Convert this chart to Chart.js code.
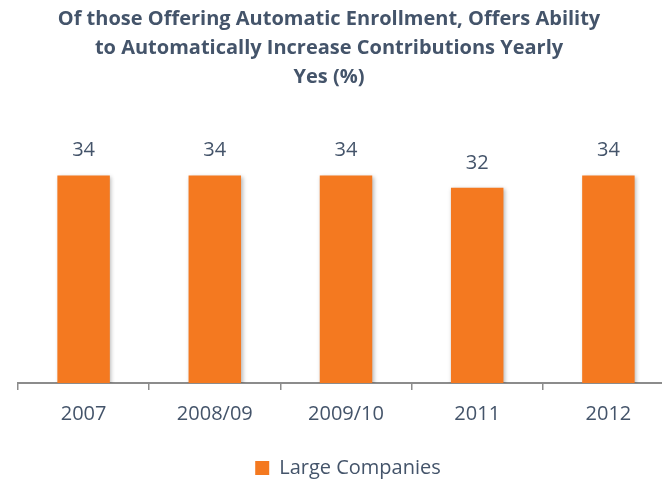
<!DOCTYPE html>
<html>
<head>
<meta charset="utf-8">
<script src="https://cdn.jsdelivr.net/npm/chart.js@4/dist/chart.umd.min.js"></script>
<style>
html,body{margin:0;padding:0;background:#fff;overflow:hidden;}
#wrap{width:662px;height:479px;position:relative;overflow:hidden;}
</style>
</head>
<body>
<div id="wrap"><canvas id="c" width="674" height="479"></canvas></div>
<script>
const categories = ["2007", "2008/09", "2009/10", "2011", "2012"];
const seriesName = "Large Companies";
const largeCompanies = [34, 34, 34, 32, 34];
const titleLines = [
  "Of those Offering Automatic Enrollment, Offers Ability",
  "to Automatically Increase Contributions Yearly",
  "Yes (%)"
];

const TEXT = "#44546A";
const ORANGE = "#F47920";
const FONT = "'Open Sans', 'Noto Sans', sans-serif";

const shadowPlugin = {
  id: "barShadow",
  beforeDatasetsDraw(chart) {
    const ctx = chart.ctx;
    ctx.save();
    ctx.shadowColor = "rgba(0,0,0,0.28)";
    ctx.shadowBlur = 4;
    ctx.shadowOffsetX = 1.5;
    ctx.shadowOffsetY = 1.5;
  },
  afterDatasetsDraw(chart) {
    chart.ctx.restore();
  }
};

const labelPlugin = {
  id: "valueLabels",
  afterDatasetsDraw(chart) {
    const ctx = chart.ctx;
    const meta = chart.getDatasetMeta(0);
    ctx.save();
    ctx.fillStyle = TEXT;
    ctx.font = "20px " + FONT;
    ctx.textAlign = "center";
    ctx.textBaseline = "middle";
    meta.data.forEach((bar, i) => {
      ctx.fillText(String(chart.data.datasets[0].data[i]), bar.x, bar.y - 25);
    });
    ctx.restore();
  }
};

const titleShift = {
  id: "titleShift",
  afterLayout(chart) {
    if (chart.titleBlock) {
      chart.titleBlock.left -= 8;
      chart.titleBlock.right -= 8;
    }
    if (chart.legend) {
      chart.legend.left += 11;
      chart.legend.right += 11;
      chart.legend.top += 9;
      chart.legend.bottom += 9;
    }
  }
};

new Chart(document.getElementById("c"), {
  type: "bar",
  data: {
    labels: categories,
    datasets: [{
      label: seriesName,
      data: largeCompanies,
      backgroundColor: ORANGE,
      borderWidth: 0,
      categoryPercentage: 1.0,
      barPercentage: 0.4
    }]
  },
  plugins: [shadowPlugin, labelPlugin, titleShift],
  options: {
    responsive: false,
    animation: false,
    devicePixelRatio: 1,
    layout: { padding: { left: 0, right: 0, top: 5, bottom: 0 } },
    plugins: {
      title: {
        display: true,
        text: titleLines,
        color: TEXT,
        font: { family: FONT, size: 20, weight: "bold", lineHeight: 1.45 },
        padding: { top: 0, bottom: 47 }
      },
      legend: {
        display: true,
        position: "bottom",
        labels: {
          color: TEXT,
          font: { family: FONT, size: 20 },
          boxWidth: 14,
          boxHeight: 14,
          padding: 2
        }
      },
      tooltip: { enabled: false }
    },
    scales: {
      x: {
        offset: true,
        grid: {
          display: true,
          drawOnChartArea: false,
          drawTicks: true,
          tickLength: 7,
          color: "#8C8C8C",
          lineWidth: 1.5,
          offset: true
        },
        border: { display: true, color: "#8C8C8C", width: 2 },
        ticks: {
          color: TEXT,
          font: { family: FONT, size: 20 },
          padding: 12
        },
        afterFit(scale) { scale.height += 9; }
      },
      y: {
        min: 0,
        max: 40,
        display: true,
        grid: { display: false, drawTicks: false },
        border: { display: false },
        ticks: { display: false },
        afterFit(scale) { scale.width = 18; }
      }
    }
  }
});
</script>
</body>
</html>
